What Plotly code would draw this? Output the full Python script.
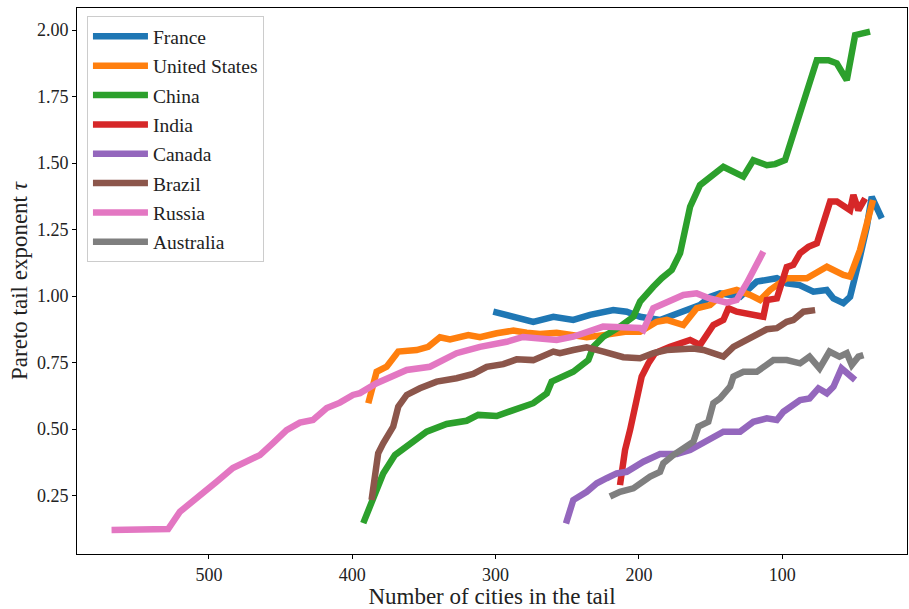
import plotly.graph_objects as go

countries = ["France", "United States", "China", "India", "Canada", "Brazil", "Russia", "Australia"]
colors = ["#1f77b4", "#ff7f0e", "#2ca02c", "#d62728", "#9467bd", "#8c564b", "#e377c2", "#7f7f7f"]

france_n = [301.6, 285.3, 273.7, 259.7, 245.8, 234.1, 217.9, 208.5, 199.2, 185.3, 171.3, 157.4, 150.4, 143.4, 129.4, 117.8, 103.8, 96.9, 88.0, 78.3, 69.0, 64.3, 57.4, 52.7, 45.8, 41.0, 37.6, 30.6]
france_t = [0.941, 0.916, 0.903, 0.922, 0.910, 0.929, 0.947, 0.941, 0.922, 0.910, 0.941, 0.966, 0.997, 1.010, 0.997, 1.054, 1.067, 1.048, 1.041, 1.016, 1.023, 0.991, 0.973, 0.997, 1.148, 1.261, 1.373, 1.292]

us_n = [388.8, 383.0, 376.0, 367.9, 355.1, 347.0, 338.8, 331.8, 319.0, 310.9, 299.2, 287.6, 278.3, 269.0, 257.4, 245.8, 236.4, 224.8, 208.5, 199.2, 187.6, 180.6, 169.0, 159.7, 150.4, 141.1, 131.8, 122.5, 115.5, 108.5, 96.9, 82.9, 68.9, 57.4, 52.7, 45.8, 36.7]
us_t = [0.597, 0.715, 0.734, 0.791, 0.797, 0.809, 0.845, 0.837, 0.853, 0.845, 0.860, 0.870, 0.862, 0.857, 0.862, 0.853, 0.845, 0.853, 0.866, 0.866, 0.903, 0.910, 0.891, 0.954, 0.966, 1.010, 1.023, 1.004, 0.985, 1.023, 1.067, 1.067, 1.110, 1.079, 1.073, 1.173, 1.361]

china_n = [392.3, 386.5, 378.4, 370.2, 359.7, 348.1, 334.1, 320.2, 312.1, 299.2, 287.6, 273.7, 264.3, 260.9, 245.8, 235.3, 231.8, 224.8, 213.2, 203.9, 199.2, 196.9, 190.0, 184.1, 177.1, 171.3, 164.3, 157.4, 141.1, 127.2, 120.2, 110.8, 105.0, 98.1, 92.3, 85.3, 75.9, 67.8, 62.0, 55.0, 49.2, 38.8]
china_t = [0.146, 0.227, 0.333, 0.402, 0.446, 0.490, 0.519, 0.531, 0.553, 0.549, 0.571, 0.597, 0.634, 0.678, 0.715, 0.759, 0.809, 0.847, 0.885, 0.922, 0.979, 0.991, 1.035, 1.067, 1.098, 1.161, 1.336, 1.417, 1.486, 1.449, 1.511, 1.492, 1.496, 1.511, 1.612, 1.724, 1.887, 1.887, 1.875, 1.812, 1.981, 1.994]

india_n = [213.2, 209.7, 206.2, 200.4, 198.1, 193.4, 188.8, 178.3, 171.3, 164.3, 157.4, 152.7, 148.1, 141.1, 137.6, 131.8, 122.5, 113.2, 110.8, 103.8, 96.9, 92.3, 87.6, 81.8, 75.9, 72.4, 66.6, 61.9, 52.7, 50.4, 46.9, 42.2]
india_t = [0.289, 0.421, 0.496, 0.647, 0.697, 0.747, 0.785, 0.809, 0.822, 0.835, 0.816, 0.860, 0.891, 0.910, 0.954, 0.941, 0.929, 0.922, 0.985, 0.991, 1.109, 1.117, 1.161, 1.185, 1.198, 1.261, 1.355, 1.355, 1.323, 1.380, 1.323, 1.367]

canada_n = [250.9, 245.8, 236.4, 229.4, 222.5, 215.5, 208.5, 196.9, 185.3, 173.6, 164.3, 157.4, 150.4, 141.1, 129.4, 120.2, 110.8, 103.8, 99.2, 87.6, 81.0, 74.8, 68.9, 64.3, 58.7, 53.9, 49.2]
canada_t = [0.145, 0.233, 0.264, 0.296, 0.315, 0.333, 0.339, 0.377, 0.406, 0.406, 0.421, 0.440, 0.459, 0.490, 0.490, 0.527, 0.540, 0.534, 0.565, 0.609, 0.615, 0.653, 0.634, 0.659, 0.728, 0.703, 0.684]

brazil_n = [386.5, 381.9, 378.4, 371.4, 367.9, 362.0, 352.8, 341.1, 327.2, 315.6, 306.2, 294.6, 285.3, 273.7, 259.7, 255.1, 245.8, 236.4, 224.8, 210.9, 199.2, 189.9, 180.6, 162.0, 155.0, 141.1, 134.1, 122.5, 110.8, 103.8, 96.9, 92.3, 85.3, 77.1]
brazil_t = [0.233, 0.409, 0.446, 0.509, 0.584, 0.628, 0.653, 0.678, 0.691, 0.707, 0.734, 0.744, 0.762, 0.759, 0.791, 0.785, 0.797, 0.807, 0.791, 0.770, 0.766, 0.785, 0.797, 0.803, 0.797, 0.772, 0.809, 0.841, 0.875, 0.879, 0.903, 0.910, 0.941, 0.947]

russia_n = [567.9, 528.4, 520.2, 509.8, 494.6, 483.3, 464.4, 455.3, 445.8, 436.5, 427.4, 417.8, 408.6, 399.5, 394.6, 383.0, 371.4, 362.0, 345.8, 338.8, 327.2, 310.9, 292.3, 280.9, 257.4, 245.9, 234.1, 225.0, 199.2, 196.9, 190.0, 169.0, 159.7, 150.6, 138.7, 131.8, 124.8, 113.2]
russia_t = [0.120, 0.124, 0.189, 0.233, 0.302, 0.353, 0.402, 0.447, 0.496, 0.524, 0.534, 0.579, 0.599, 0.628, 0.635, 0.672, 0.703, 0.722, 0.734, 0.753, 0.785, 0.809, 0.828, 0.846, 0.835, 0.847, 0.866, 0.885, 0.880, 0.872, 0.954, 1.004, 1.010, 0.991, 0.975, 0.985, 1.048, 1.167]

australia_n = [220.2, 213.2, 203.9, 199.2, 192.2, 185.3, 183.0, 176.0, 166.7, 162.0, 158.5, 151.6, 148.1, 143.4, 136.4, 134.1, 127.1, 117.8, 106.2, 96.9, 87.6, 81.0, 74.0, 67.1, 60.1, 55.0, 51.5, 46.9, 43.4]
australia_t = [0.246, 0.264, 0.277, 0.296, 0.321, 0.339, 0.371, 0.402, 0.434, 0.452, 0.509, 0.527, 0.597, 0.615, 0.659, 0.697, 0.715, 0.715, 0.759, 0.759, 0.747, 0.772, 0.728, 0.791, 0.772, 0.785, 0.741, 0.772, 0.778]

xs = [france_n, us_n, china_n, india_n, canada_n, brazil_n, russia_n, australia_n]
ys = [france_t, us_t, china_t, india_t, canada_t, brazil_t, russia_t, australia_t]

x_ticks = [500, 400, 300, 200, 100]
y_ticks = [0.25, 0.50, 0.75, 1.00, 1.25, 1.50, 1.75, 2.00]

FONT = "Liberation Serif"

fig = go.Figure()
for name, col, x, y in zip(countries, colors, xs, ys):
    fig.add_trace(go.Scatter(x=x, y=y, mode="lines", name=name, legendgroup=name,
                             line=dict(color=col, width=6.5)))

axis_common = dict(showline=True, mirror=True, linecolor="black", linewidth=1,
                   ticks="outside", ticklen=4, tickcolor="black", showgrid=False,
                   zeroline=False, tickfont=dict(family=FONT, size=18, color="#222"))

fig.update_layout(
    width=909, height=609,
    margin=dict(l=77, r=2, t=8, b=55),
    plot_bgcolor="white", paper_bgcolor="white",
    font=dict(family=FONT, color="#222"),
    showlegend=True,
    legend=dict(x=0.012, y=0.985, xanchor="left", yanchor="top",
                bgcolor="rgba(255,255,255,0.85)", bordercolor="#cccccc", borderwidth=1,
                font=dict(family=FONT, size=19.5, color="#222"),
                tracegroupgap=1, itemwidth=55),
    xaxis=dict(range=[592, 13], tickvals=x_ticks, ticktext=[str(v) for v in x_ticks],
               title=dict(text="Number of cities in the tail", font=dict(family=FONT, size=23), standoff=1),
               **axis_common),
    yaxis=dict(range=[0.03, 2.083], tickvals=y_ticks, ticktext=[f"{v:.2f}" for v in y_ticks],
               title=dict(text="Pareto tail exponent <i>τ</i>", font=dict(family=FONT, size=23), standoff=2),
               **axis_common),
)

fig.write_html("out.html")
